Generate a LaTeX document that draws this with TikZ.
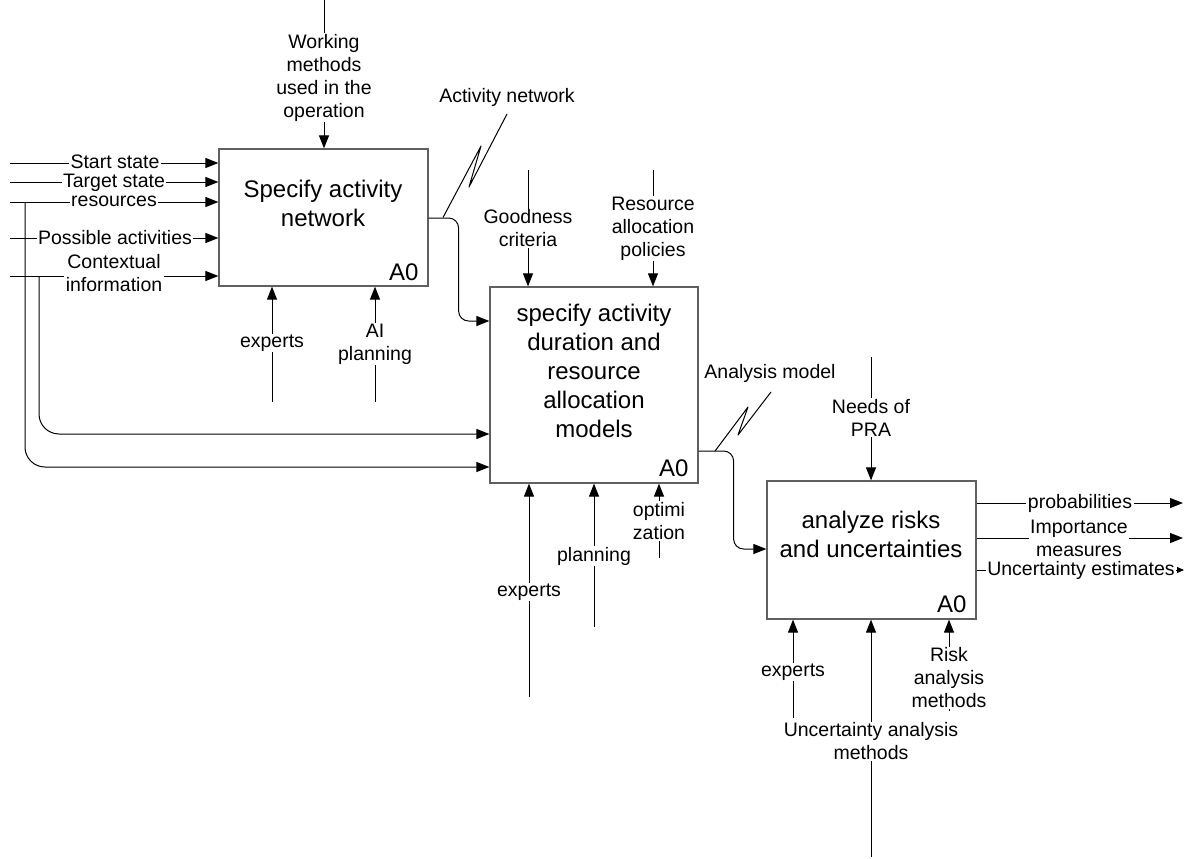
\documentclass[tikz,border=0pt]{standalone}
\usepackage{fontspec}
\setmainfont{Liberation Sans}
\usetikzlibrary{arrows.meta,calc}
\definecolor{boxgray}{RGB}{96,96,96}
\begin{document}
\begin{tikzpicture}[x=1pt,y=-1pt,
  box/.style={draw=boxgray, line width=1.2pt, fill=white, inner sep=0pt},
  lbl/.style={font=\fontsize{19.5}{23}\selectfont, align=center, fill=white, inner xsep=1.5pt, inner ysep=1pt},
  tight/.style={text height=13.5pt, text depth=3.5pt, inner ysep=0pt},
  boxtxt/.style={font=\fontsize{24}{29}\selectfont, align=center, inner sep=0pt},
  aid/.style={font=\fontsize{24}{29}\selectfont, anchor=base east, inner sep=0pt},
  conn/.style={line width=1pt, -{Triangle[length=13pt,width=10pt]}},
  plainline/.style={line width=1pt},
  smallarr/.style={line width=1pt, -{Triangle[length=7pt,width=6pt]}}]
\useasboundingbox (0,0) rectangle (1186,859);
\fill[white] (0,0) rectangle (1186,859);

% boxes
\node[box, minimum width=209pt, minimum height=137pt] (b1) at (323.5,217.5) {};
\node[box, minimum width=208pt, minimum height=196pt] (b2) at (594,385) {};
\node[box, minimum width=209pt, minimum height=138pt] (b3) at (871.5,550) {};

\node[boxtxt] (t1) at (323,203) {Specify activity\\network};
\node[boxtxt] (t2) at (594,371) {specify activity\\duration and\\resource\\allocation\\models};
\node[boxtxt] (t3) at (871,534) {analyze risks\\and uncertainties};
\node[aid] (a1) at ($(b1.south east)+(-10,-6)$) {A0};
\node[aid] (a2) at ($(b2.south east)+(-10,-7)$) {A0};
\node[aid] (a3) at ($(b3.south east)+(-10,-7)$) {A0};

% inputs of box 1
\coordinate (i1) at (10,163);
\coordinate (i2) at (10,182);
\coordinate (i3) at (10,202);
\coordinate (i4) at (10,238);
\coordinate (i5) at (10,276);
\draw[conn] (i1) -- (b1.west |- i1);
\draw[conn] (i2) -- (b1.west |- i2);
\draw[conn] (i3) -- (b1.west |- i3);
\draw[conn] (i4) -- (b1.west |- i4);
\draw[conn] (i5) -- (b1.west |- i5);

% branches to box 2
\coordinate (br1) at (25,202);
\coordinate (br1c) at (25,467);
\coordinate (br2) at (39,276);
\coordinate (br2c) at (39,434);
\draw[conn, rounded corners=20pt] (br1) -- (br1c) -- (b2.west |- br1c);
\draw[conn, rounded corners=20pt] (br2) -- (br2c) -- (b2.west |- br2c);

\node[lbl, tight] (l1) at (115,163) {Start state};
\node[lbl, tight] (l2) at (114,182) {Target state};
\node[lbl, tight] (l3) at (114,201) {resources};
\node[lbl] (l4) at (115,238) {Possible activities};
\node[lbl] (l5) at (114,273.5) {Contextual\\information};

% control of box 1
\coordinate (c1) at (324,0);
\draw[conn] (c1) -- (c1 |- b1.north);
\node[lbl] (lc1) at (324,77.5) {Working\\methods\\used in the\\operation};

% mechanisms of box 1
\coordinate (m1) at (272,402);
\coordinate (m2) at (375,402);
\draw[conn] (m1) -- (m1 |- b1.south);
\draw[conn] (m2) -- (m2 |- b1.south);
\node[lbl] (lm1) at (272,343) {experts};
\node[lbl] (lm2) at (375,344) {AI\\planning};

% output of box 1 -> box 2
\draw[conn, rounded corners=10pt] ($(b1.east)+(0,0.5)$) -- ++(30,0) |- ($(b2.west)+(0,-64)$);
\node[lbl, fill=none] (an) at (507,97) {Activity network};
\coordinate (s1) at (443,217.5);
\draw[plainline, line join=round] (s1) -- (481,146) -- (469,187) -- (507,114);

% controls of box 2
\coordinate (c2) at (528,170);
\coordinate (c3) at (653,170);
\draw[conn] (c2) -- (c2 |- b2.north);
\draw[conn] (c3) -- (c3 |- b2.north);
\node[lbl] (lc2) at (528,228.5) {Goodness\\criteria};
\node[lbl] (lc3) at (653,228.5) {Resource\\allocation\\policies};

% mechanisms of box 2
\coordinate (m3) at (529,697);
\coordinate (m4) at (594,627);
\coordinate (m5) at (659,558);
\draw[conn] (m3) -- (m3 |- b2.south);
\draw[conn] (m4) -- (m4 |- b2.south);
\draw[conn] (m5) -- (m5 |- b2.south);
\node[lbl] (lm3) at (529,592) {experts};
\node[lbl] (lm4) at (594,556) {planning};
\node[lbl] (lm5) at (659,521) {optimi\\zation};

% output of box 2 -> box 3
\draw[conn, rounded corners=10pt] ($(b2.east)+(0,66)$) -- ++(35,0) |- ($(b3.west)+(0,-1)$);
\node[lbl, fill=none] (am) at (770,373) {Analysis model};
\coordinate (s2) at (715,451);
\draw[plainline, line join=round] (s2) -- (748,407) -- (738,435) -- (771,392);

% control of box 3
\coordinate (c4) at (871,357);
\draw[conn] (c4) -- (c4 |- b3.north);
\node[lbl] (lc4) at (871,417.5) {Needs of\\PRA};

% outputs of box 3
\coordinate (e1) at (1183,503);
\coordinate (e2) at (1183,538);
\coordinate (e3) at (1184,570);
\draw[conn] (e1 -| b3.east) -- (e1);
\draw[conn] (e2 -| b3.east) -- (e2);
\draw[smallarr] (e3 -| b3.east) -- (e3);
\node[lbl] (lo1) at (1080,503) {probabilities};
\node[lbl] (lo2) at (1079,538) {Importance\\measures};
\node[lbl] (lo3) at (1081,570) {Uncertainty estimates};

% mechanisms of box 3
\coordinate (m6) at (793,718);
\coordinate (m7) at (871,857);
\coordinate (m8) at (949,711);
\draw[conn] (m6) -- (m6 |- b3.south);
\draw[conn] (m7) -- (m7 |- b3.south);
\draw[conn] (m8) -- (m8 |- b3.south);
\node[lbl] (lm6) at (793,672) {experts};
\node[lbl] (lm7) at (871,741.5) {Uncertainty analysis\\methods};
\node[lbl] (lm8) at (949,678) {Risk\\analysis\\methods};
\end{tikzpicture}
\end{document}
